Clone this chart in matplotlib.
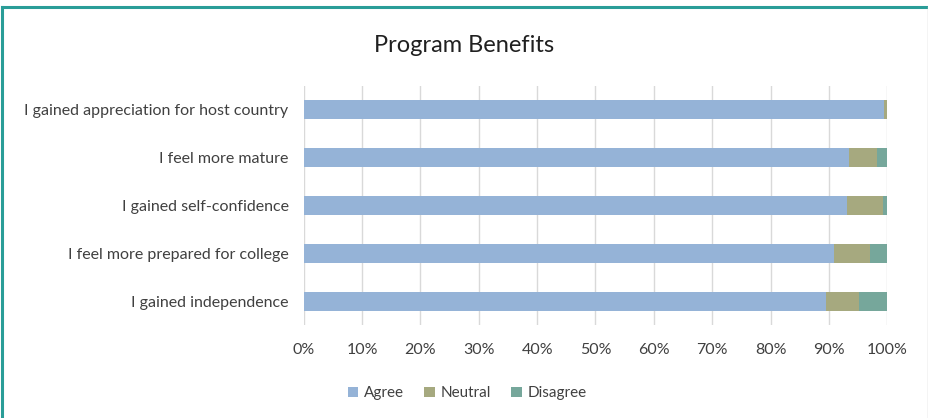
import matplotlib.pyplot as plt
from matplotlib.lines import Line2D

# survey items, listed bottom to top
items = [
    "I gained independence",
    "I feel more prepared for college",
    "I gained self-confidence",
    "I feel more mature",
    "I gained appreciation for host country",
]
agree = [89.5, 90.8, 93.1, 93.5, 99.5]
neutral = [5.7, 6.3, 6.1, 4.8, 0.5]
disagree = [4.8, 2.9, 0.8, 1.7, 0.0]

series = ["Agree", "Neutral", "Disagree"]
colors = ["#95b3d7", "#a6a97f", "#76a79b"]

plt.rcParams['font.family'] = ['Lato', 'DejaVu Sans']

fig = plt.figure(figsize=(9.29, 4.18), dpi=100)
ax = fig.add_axes([0.327, 0.222, 0.628, 0.573])

pos = range(len(items))
left = [0] * len(items)
for name, vals, c in zip(series, [agree, neutral, disagree], colors):
    ax.barh(pos, vals, left=left, height=0.4, color=c, label=name, zorder=3)
    left = [l + v for l, v in zip(left, vals)]

ax.set_xlim(0, 100)
ax.set_ylim(-0.5, len(items) - 0.5)
ax.set_xticks(range(0, 101, 10))
ax.set_xticklabels([f"{t}%" for t in range(0, 101, 10)], fontsize=11.5, color="#404040")
ax.set_yticks(list(pos))
ax.set_yticklabels(items, fontsize=11.5, color="#404040")
ax.tick_params(length=0, pad=13, axis='x')
ax.tick_params(length=0, pad=11, axis='y')
ax.grid(axis='x', color="#d9d9d9", linewidth=1, zorder=0)
for s in ax.spines.values():
    s.set_visible(False)

fig.text(0.5, 0.892, "Program Benefits", ha='center', va='center', fontsize=17, color="#202020")

ax.legend(loc='center', bbox_to_anchor=(0.5 * (1 - 0.327 * 2) / 0.628 + 0.005, -0.285),
          ncol=3, frameon=False, fontsize=11, handlelength=0.7, handleheight=0.7,
          handletextpad=0.4, columnspacing=1.3, labelcolor="#404040")

# teal frame on top and left, grey on right
fig.add_artist(Line2D([0.002, 0.002], [0, 0.983], transform=fig.transFigure, color="#2a9d98", lw=2.2))
fig.add_artist(Line2D([0.002, 0.999], [0.983, 0.983], transform=fig.transFigure, color="#2a9d98", lw=2.2))
fig.add_artist(Line2D([0.999, 0.999], [0, 0.983], transform=fig.transFigure, color="#c8c8c8", lw=1))

fig.savefig("out.png", dpi=100)
